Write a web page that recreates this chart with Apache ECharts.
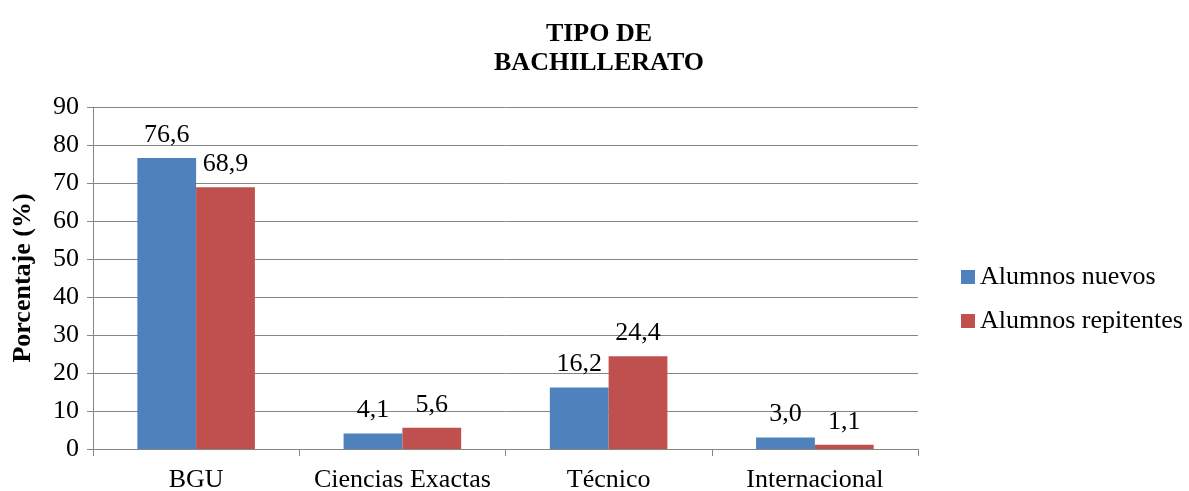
<!DOCTYPE html>
<html><head><meta charset="utf-8">
<script src="https://cdn.jsdelivr.net/npm/echarts@6/dist/echarts.min.js"></script>
<style>html,body{margin:0;padding:0;background:#fff}#c{width:1189px;height:491px}</style>
</head><body><div id="c"></div>
<script>
const categories = ['BGU', 'Ciencias Exactas', 'Técnico', 'Internacional'];
const nuevos = [76.6, 4.1, 16.2, 3.0];
const repitentes = [68.9, 5.6, 24.4, 1.1];
const seriesNames = ['Alumnos nuevos', 'Alumnos repitentes'];
const F = '"Liberation Serif", "Times New Roman", serif';
const FS = 26;
const chart = echarts.init(document.getElementById('c'));
const lbl = {show: true, position: 'top', distance: 10, color: '#000', fontFamily: F, fontSize: FS,
  formatter: p => p.value.toFixed(1).replace('.', ',')};
chart.setOption({
  animation: false,
  title: {text: 'TIPO DE\nBACHILLERATO', left: 594, textAlign: 'center', top: 15,
    textStyle: {fontFamily: F, fontSize: FS, fontWeight: 'bold', color: '#000', lineHeight: 29}},
  legend: {orient: 'vertical', left: 956, top: 259, itemWidth: 14, itemHeight: 14, itemGap: 18,
    icon: 'rect', textStyle: {fontFamily: F, fontSize: FS, color: '#000'}, data: seriesNames},
  grid: {left: 93, right: 271, top: 107, bottom: 42, containLabel: false, outerBoundsMode: 'none'},
  xAxis: {type: 'category', data: categories,
    axisLine: {lineStyle: {color: '#868686'}},
    axisTick: {show: true, length: 7, lineStyle: {color: '#868686'}},
    axisLabel: {fontFamily: F, fontSize: FS, color: '#000', margin: 18, interval: 0, hideOverlap: false}},
  yAxis: {type: 'value', min: 0, max: 90, interval: 10,
    name: 'Porcentaje (%)', nameLocation: 'middle', nameGap: 57, nameRotate: 90,
    nameTextStyle: {fontFamily: F, fontSize: FS, fontWeight: 'bold', color: '#000'},
    axisLine: {show: true, lineStyle: {color: '#868686'}},
    axisTick: {show: true, length: 6, lineStyle: {color: '#868686'}},
    splitLine: {lineStyle: {color: '#868686'}},
    axisLabel: {fontFamily: F, fontSize: FS, color: '#000', margin: 14}},
  series: [
    {name: seriesNames[0], type: 'bar', data: nuevos, barGap: '0%', barCategoryGap: '43%',
     itemStyle: {color: '#4f81bd'}, label: lbl},
    {name: seriesNames[1], type: 'bar', data: repitentes, barGap: '0%', barCategoryGap: '43%',
     itemStyle: {color: '#c0504d'}, label: lbl}
  ]
});
</script></body></html>
